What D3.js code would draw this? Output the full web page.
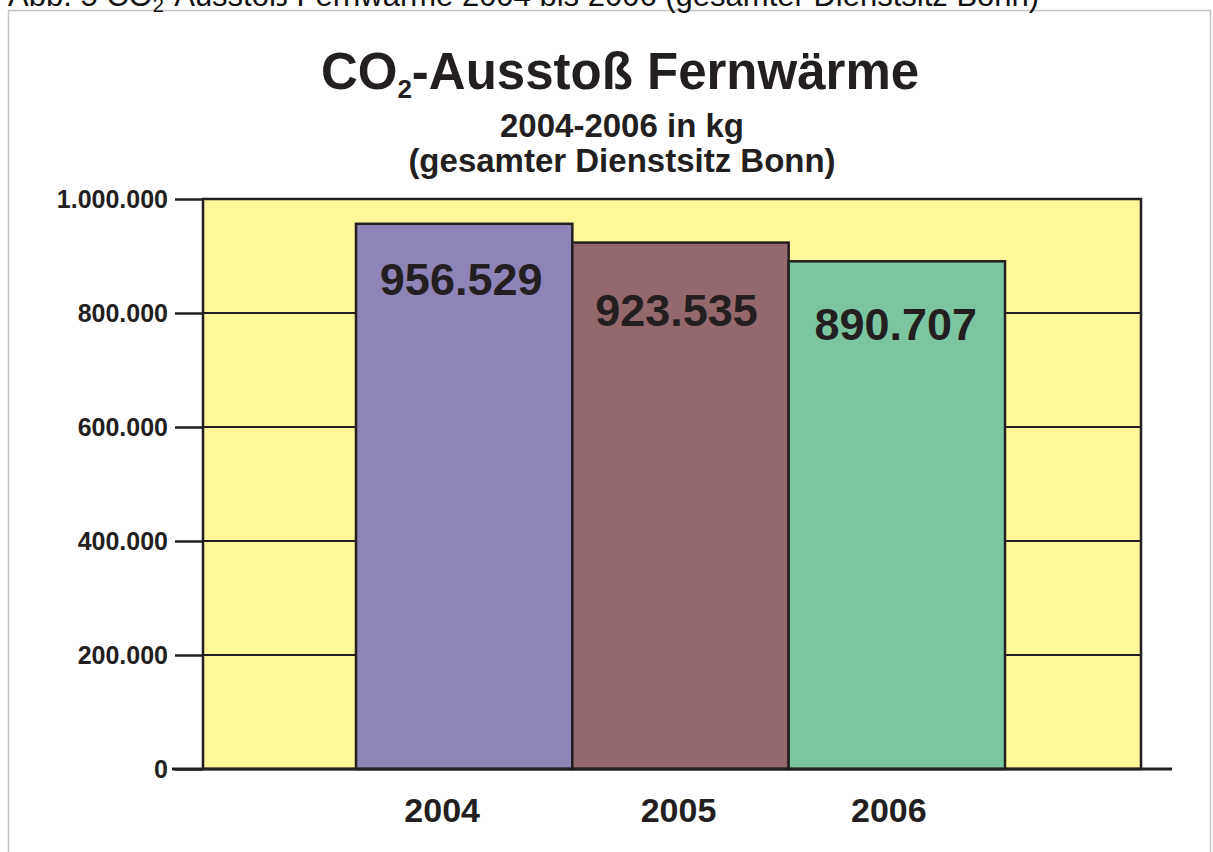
<!DOCTYPE html>
<html>
<head>
<meta charset="utf-8">
<script src="https://cdn.jsdelivr.net/npm/d3@7"></script>
<style>
	body { margin: 0; background: #fff; }
	svg { display: block; font-family: Arial, 'Liberation Sans', sans-serif; }
</style>
</head>
<body>
<svg id="chart"></svg>
<script>
// data
const years = ['2004', '2005', '2006'];
const values = [956529, 923535, 890707];
const valueLabels = ['956.529', '923.535', '890.707'];
const yTicks = [0, 200000, 400000, 600000, 800000, 1000000];
const barColors = ['#8e84b8', '#94696d', '#7bc5a1'];

const width = 1213;
const height = 852;
const ink = '#231f20';

const svg = d3.select('#chart').attr('width', width).attr('height', height);

// german number format (1.000.000)
const de = d3.formatLocale({ decimal: ',', thousands: '.', grouping: [3], currency: ['', ' €'] });
const fmt = de.format(',d');

// scales
const plotLeft = 203, plotRight = 1141;
const y = d3.scaleLinear().domain([0, 1000000]).range([769, 199]);
const x = d3.scaleBand().domain(years).range([356, 1005]).padding(0);

// page frame + caption line on top (cut off in the original scan)
svg.append('rect')
	.attr('x', 8.5).attr('y', 10.5)
	.attr('width', 1202).attr('height', 860)
	.attr('fill', 'none').attr('stroke', '#c4c4c4').attr('stroke-width', 1.5);

const cap = svg.append('text')
	.attr('x', 8).attr('y', 6)
	.attr('font-size', 31).attr('fill', '#111');
cap.append('tspan').text('Abb. 5 CO');
cap.append('tspan').attr('font-size', 20).attr('dy', 6).text('2');
cap.append('tspan').attr('dy', -6).text('-Ausstoß Fernwärme 2004 bis 2006 (gesamter Dienstsitz Bonn)');

// titles
const title = svg.append('text')
	.attr('x', 620).attr('y', 89)
	.attr('text-anchor', 'middle')
	.attr('font-size', 51).attr('font-weight', 'bold').attr('fill', ink);
title.append('tspan').text('CO');
title.append('tspan').attr('font-size', 26).attr('dy', 9).text('2');
title.append('tspan').attr('dy', -9).text('-Ausstoß Fernwärme');

svg.append('text')
	.attr('x', 622).attr('y', 137)
	.attr('text-anchor', 'middle')
	.attr('font-size', 33).attr('font-weight', 'bold').attr('fill', ink)
	.text('2004-2006 in kg');

svg.append('text')
	.attr('x', 622).attr('y', 172)
	.attr('text-anchor', 'middle')
	.attr('font-size', 33).attr('font-weight', 'bold').attr('fill', ink)
	.text('(gesamter Dienstsitz Bonn)');

// yellow plot area
svg.append('rect')
	.attr('x', plotLeft).attr('y', y(1000000))
	.attr('width', plotRight - plotLeft).attr('height', y(0) - y(1000000))
	.attr('fill', '#fff89b');

// grid lines
svg.append('g')
	.selectAll('line')
	.data(yTicks.filter((d) => d > 0 && d < 1000000))
	.join('line')
	.attr('x1', plotLeft).attr('x2', plotRight)
	.attr('y1', (d) => y(d)).attr('y2', (d) => y(d))
	.attr('stroke', ink).attr('stroke-width', 2.2);

// plot border
svg.append('rect')
	.attr('x', plotLeft).attr('y', y(1000000))
	.attr('width', plotRight - plotLeft).attr('height', y(0) - y(1000000))
	.attr('fill', 'none').attr('stroke', ink).attr('stroke-width', 2.5);

// bars
svg.append('g')
	.selectAll('rect')
	.data(years)
	.join('rect')
	.attr('x', (d) => x(d))
	.attr('y', (d, i) => y(values[i]))
	.attr('width', x.bandwidth())
	.attr('height', (d, i) => y(0) - y(values[i]))
	.attr('fill', (d, i) => barColors[i])
	.attr('stroke', ink).attr('stroke-width', 2.5);

// value labels inside bars (small per-bar nudges as in the original)
const labelDy = [71, 83, 79];
const labelDx = [-3, -4, -1];
svg.append('g')
	.selectAll('text')
	.data(years)
	.join('text')
	.attr('x', (d, i) => x(d) + x.bandwidth() / 2 + labelDx[i])
	.attr('y', (d, i) => y(values[i]) + labelDy[i])
	.attr('text-anchor', 'middle')
	.attr('font-size', 45).attr('font-weight', 'bold').attr('fill', ink)
	.text((d, i) => valueLabels[i]);

// y axis
const yAxis = svg.append('g')
	.attr('transform', `translate(${plotLeft},0)`)
	.call(d3.axisLeft(y).tickValues(yTicks).tickFormat(fmt).tickSize(28).tickPadding(7));
yAxis.select('.domain').remove();
yAxis.selectAll('.tick line').attr('stroke', ink).attr('stroke-width', 2.5);
yAxis.selectAll('.tick text')
	.attr('font-family', 'Arial, "Liberation Sans", sans-serif')
	.attr('font-size', 25).attr('font-weight', 'bold').attr('fill', ink);

// baseline
svg.append('line')
	.attr('x1', 172).attr('x2', 1172)
	.attr('y1', y(0)).attr('y2', y(0))
	.attr('stroke', ink).attr('stroke-width', 3);

// x axis labels
const yearDx = [-22, -2, -8];
svg.append('g')
	.selectAll('text')
	.data(years)
	.join('text')
	.attr('x', (d, i) => x(d) + x.bandwidth() / 2 + yearDx[i])
	.attr('y', 822)
	.attr('text-anchor', 'middle')
	.attr('font-size', 34).attr('font-weight', 'bold').attr('fill', ink)
	.text((d) => d);
</script>
</body>
</html>
